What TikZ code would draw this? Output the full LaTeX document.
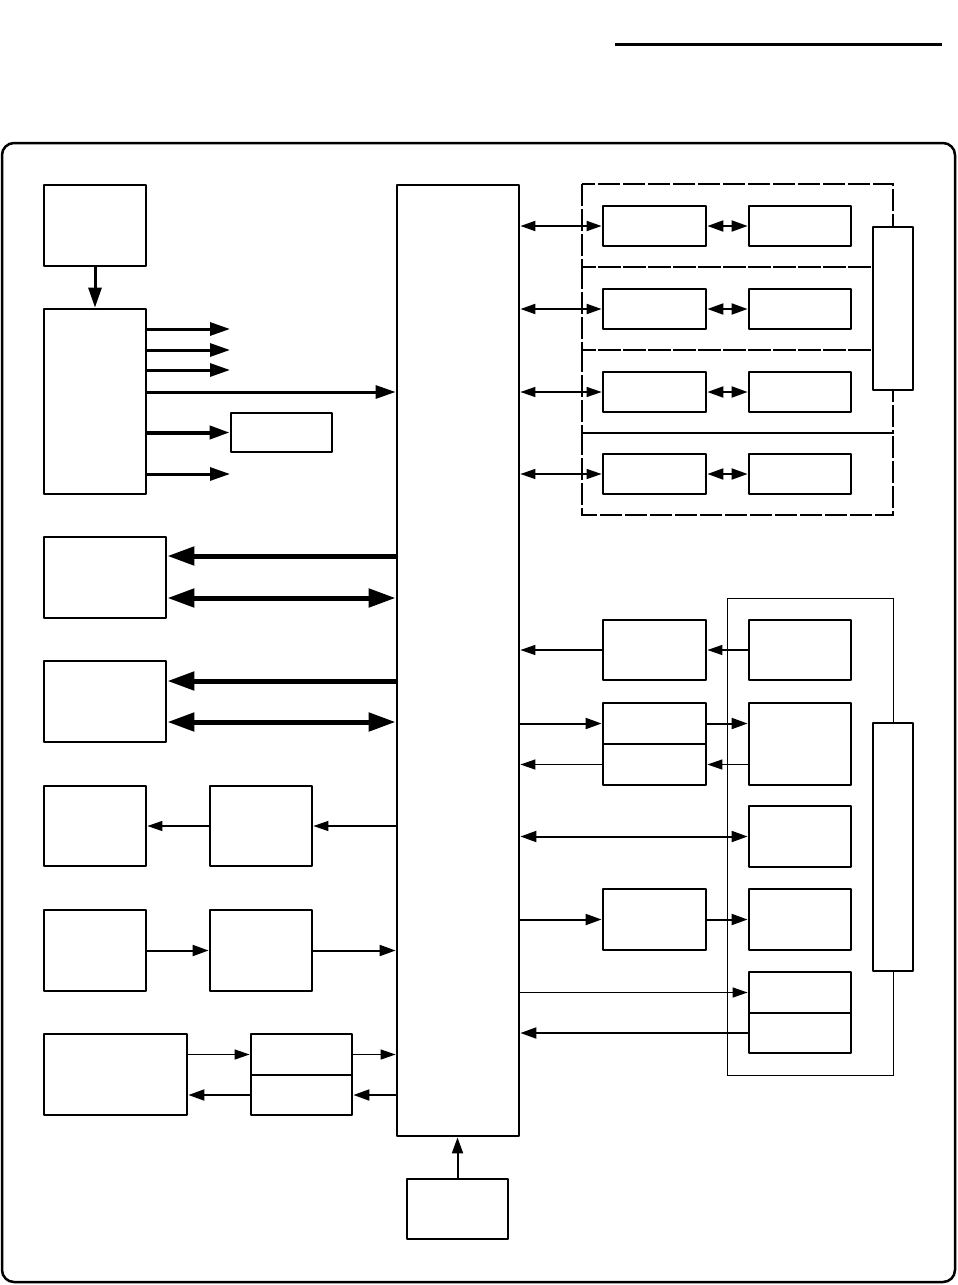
\documentclass[tikz,border=0pt]{standalone}
\usetikzlibrary{arrows.meta}
\tikzset{
  blk/.style={draw, line width=2.8pt, fill=white, inner sep=0pt, line join=round},
  tipf/.tip={Triangle[length=15pt,width=10pt]},
  tipm/.tip={Triangle[length=16pt,width=11pt]},
  tipt/.tip={Triangle[length=20pt,width=13pt]},
  tipb/.tip={Triangle[length=27pt,width=18pt]},
  sigfine/.style={line width=1.3pt, -tipf},
  sigmid/.style={line width=2pt, -tipm},
  sigtop/.style={line width=3pt, -tipt},
  sigbus/.style={line width=5pt, line cap=round, -tipb},
  bifine/.style={line width=1.3pt, tipf-tipf},
  bimid/.style={line width=2pt, tipm-tipm},
  bibus/.style={line width=5pt, tipb-tipb},
  dashbox/.style={line width=1.1pt, dash pattern=on 22pt off 3pt},
}
\begin{document}
\begin{tikzpicture}[x=1pt,y=-1pt]
\useasboundingbox (0,0) rectangle (958,1285);
\draw[line width=3pt] (615,44) -- (942,44);
\draw[line width=2.5pt, rounded corners=12pt] (2,143) rectangle (955,1282);

% left column
\node[blk, minimum width=102pt, minimum height=81pt] (A) at (95,225.5) {};
\node[blk, minimum width=102pt, minimum height=185pt] (B) at (95,401.5) {};
\node[blk, minimum width=101pt, minimum height=39pt] (C) at (281.5,432.5) {};
\node[blk, minimum width=122pt, minimum height=951pt] (main) at (458,660.5) {};
\node[blk, minimum width=122pt, minimum height=81pt] (D) at (105,577.5) {};
\node[blk, minimum width=122pt, minimum height=81pt] (E) at (105,701.5) {};
\node[blk, minimum width=102pt, minimum height=80pt] (F) at (95,826) {};
\node[blk, minimum width=102pt, minimum height=80pt] (G) at (261,826) {};
\node[blk, minimum width=102pt, minimum height=81pt] (H) at (95,950.5) {};
\node[blk, minimum width=102pt, minimum height=81pt] (I) at (261,950.5) {};
\node[blk, minimum width=143pt, minimum height=81pt] (J) at (115.5,1074.5) {};
\node[blk, minimum width=101pt, minimum height=41pt] (K1) at (301.5,1054.5) {};
\node[blk, minimum width=101pt, minimum height=40pt] (K2) at (301.5,1095) {};
\node[blk, minimum width=101pt, minimum height=60pt] (L) at (457.5,1209) {};

\draw[sigtop] (A) -- (B);
\foreach \y [count=\i] in {329,350,370,474} {
  \coordinate (fan\i) at (230,\y);
  \draw[sigtop] (B.east |- fan\i) -- (fan\i);
}
\draw[sigtop] (B.east |- 0,392) -- (main.west |- 0,392);
\draw[line width=4pt, -tipt] (B.east |- C) -- (C);
\draw[sigbus] (main.west |- 0,556) -- (D.east |- 0,556);
\draw[bibus] (D.east |- 0,598) -- (main.west |- 0,598);
\draw[sigbus] (main.west |- 0,681) -- (E.east |- 0,681);
\draw[bibus] (E.east |- 0,722) -- (main.west |- 0,722);
\draw[sigfine, line cap=round] (main.west |- G) -- (G);
\draw[sigfine] (G) -- (F);
\draw[sigmid] (H) -- (I);
\draw[sigmid] (I) -- (main.west |- I);
\draw[sigfine] (J.east |- K1) -- (K1);
\draw[sigfine] (K1) -- (main.west |- K1);
\draw[sigmid] (main.west |- K2) -- (K2);
\draw[sigmid] (K2) -- (J.east |- K2);
\draw[sigmid] (L.north) -- (L.north |- main.south);

% right top, dashed groups
\foreach \t/\b in {184/267,267/350,350/433,433/515}
  \draw[dashbox] (582,\t) rectangle (893,\b);
\node[blk, minimum width=40pt, minimum height=163pt] (M) at (893,308.5) {};
\foreach \y/\w [count=\i] in {226/2pt,309/2pt,392/1.3pt,474/1.3pt} {
  \node[blk, minimum width=103pt, minimum height=40pt] (R\i) at (654.5,\y) {};
  \node[blk, minimum width=102pt, minimum height=40pt] (S\i) at (800,\y) {};
  \draw[line width=\w, tipf-tipf] (main.east |- R\i) -- (R\i);
  \draw[bimid] (R\i) -- (S\i);
}

% right bottom
\draw[line width=1pt] (727,598) rectangle (893,1075);
\node[blk, minimum width=40pt, minimum height=248pt] (N) at (893,847) {};
\node[blk, minimum width=103pt, minimum height=60pt] (P1) at (654.5,650) {};
\node[blk, minimum width=103pt, minimum height=41pt] (P2a) at (654.5,723.5) {};
\node[blk, minimum width=103pt, minimum height=41pt] (P2b) at (654.5,764.5) {};
\node[blk, minimum width=103pt, minimum height=61pt] (P3) at (654.5,919.5) {};
\node[blk, minimum width=102pt, minimum height=60pt] (Q1) at (800,650) {};
\node[blk, minimum width=102pt, minimum height=82pt] (Q2) at (800,744) {};
\node[blk, minimum width=102pt, minimum height=61pt] (Q3) at (800,836.5) {};
\node[blk, minimum width=102pt, minimum height=61pt] (Q4) at (800,919.5) {};
\node[blk, minimum width=102pt, minimum height=41pt] (Q5a) at (800,992.5) {};
\node[blk, minimum width=102pt, minimum height=40pt] (Q5b) at (800,1033) {};

\draw[sigfine] (Q1) -- (P1);
\draw[sigfine] (P1) -- (main.east |- P1);
\draw[sigmid] (main.east |- P2a) -- (P2a);
\draw[sigmid] (P2a) -- (Q2.west |- P2a);
\draw[sigfine] (Q2.west |- P2b) -- (P2b);
\draw[sigfine] (P2b) -- (main.east |- P2b);
\draw[bimid] (main.east |- Q3) -- (Q3);
\draw[sigmid] (main.east |- P3) -- (P3);
\draw[sigmid] (P3) -- (Q4);
\draw[sigfine] (main.east |- Q5a) -- (Q5a);
\draw[sigmid] (Q5b) -- (main.east |- Q5b);
\end{tikzpicture}
\end{document}
